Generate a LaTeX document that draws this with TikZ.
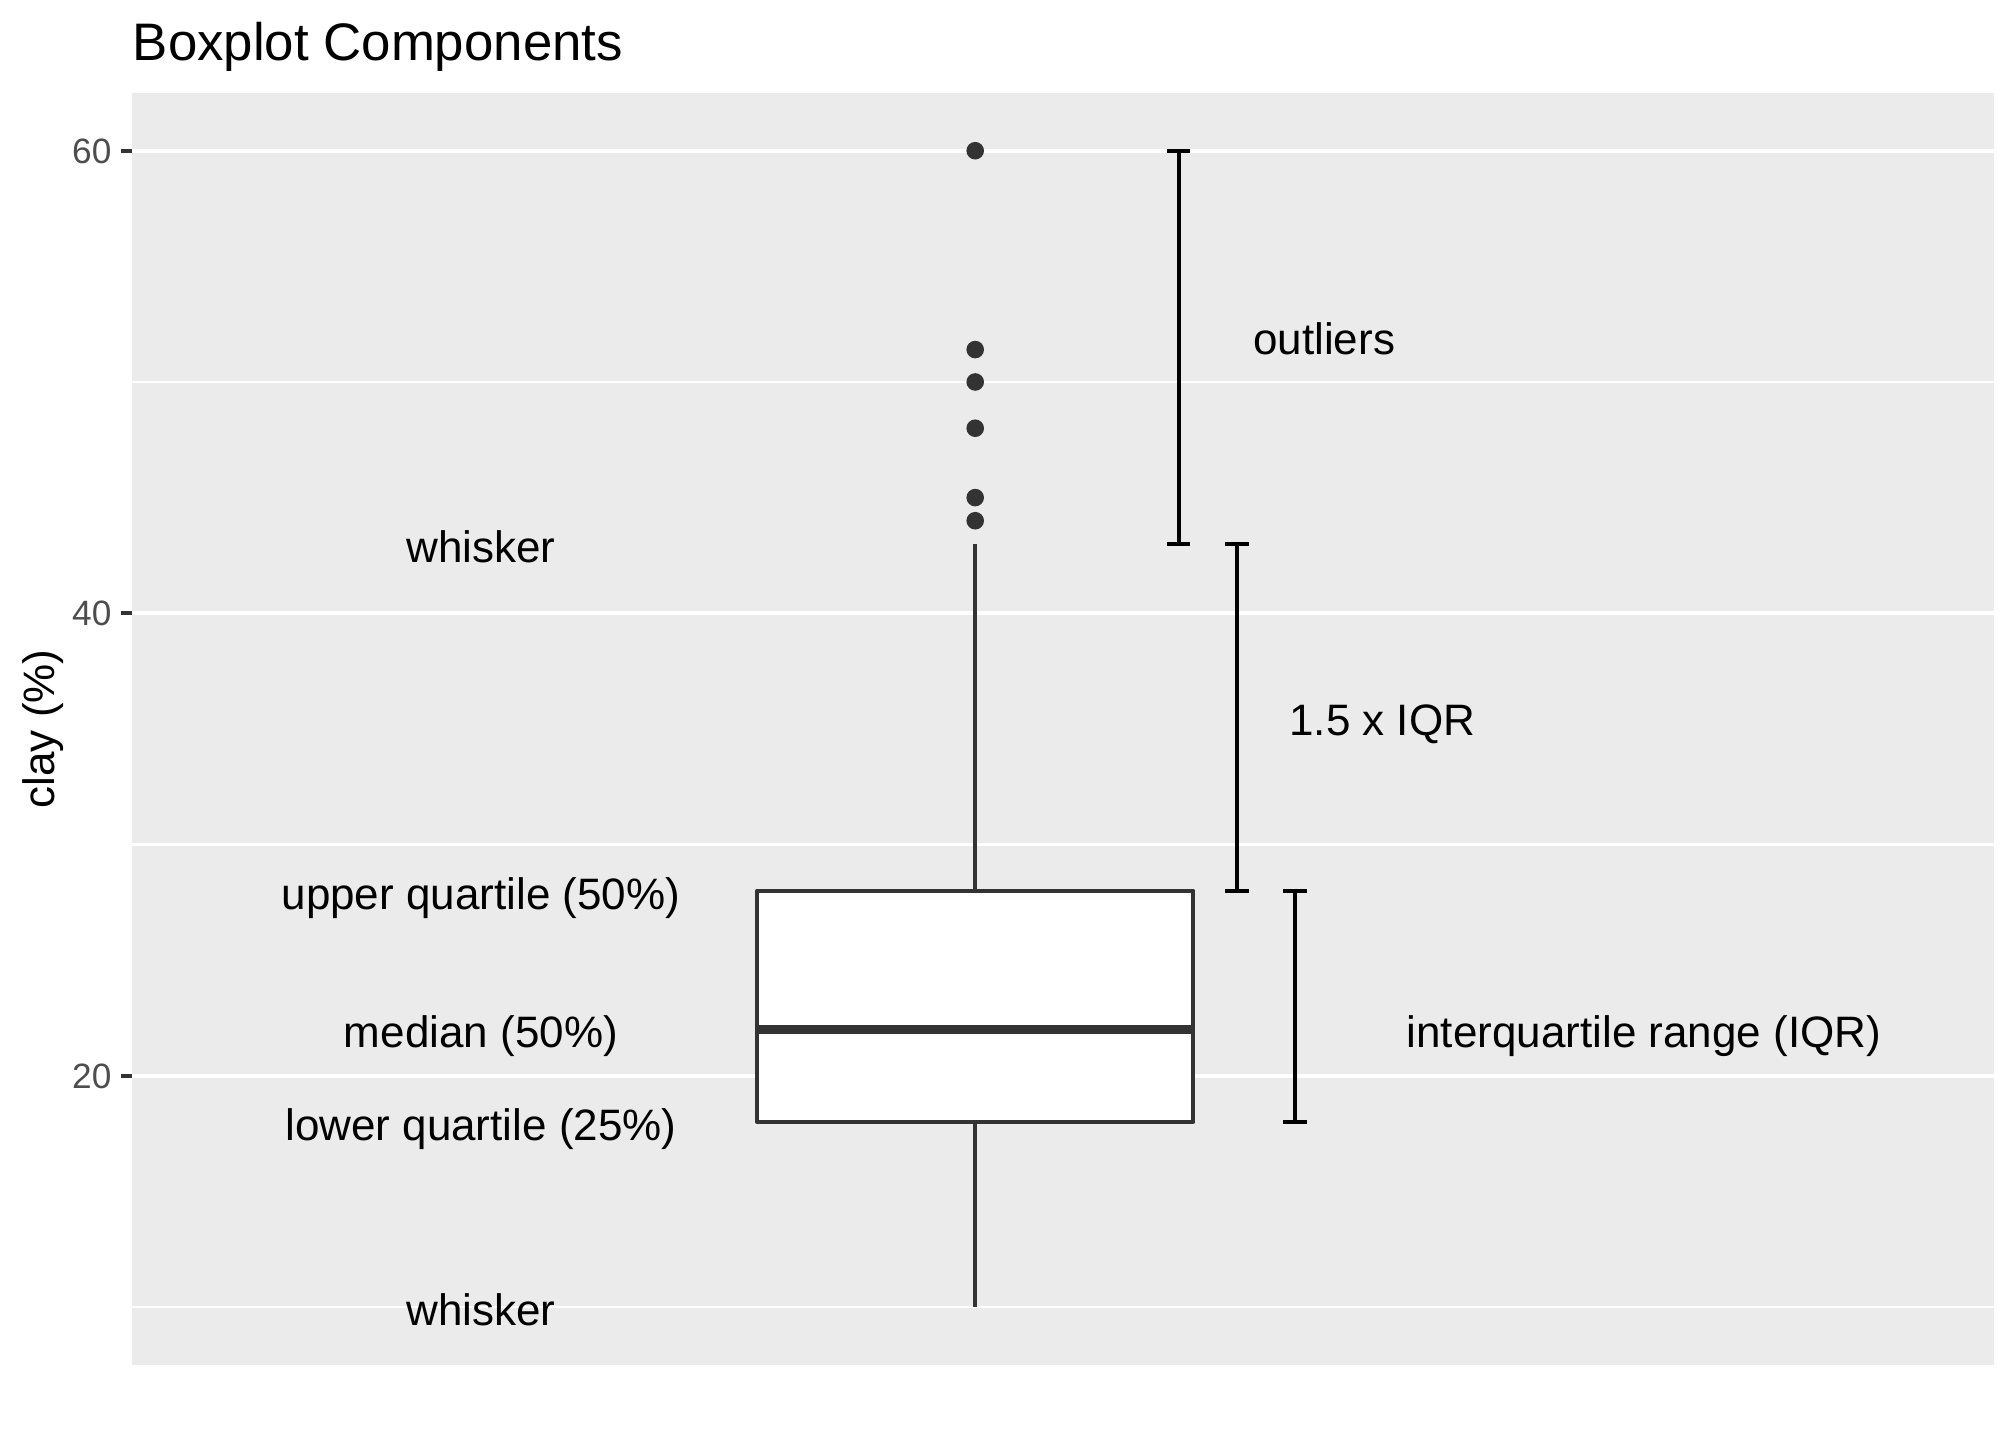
\documentclass[tikz,border=0pt]{standalone}
\usepackage{fontspec}
\setmainfont{Liberation Sans}
\usepackage{tikz}
\definecolor{bppanel}{RGB}{235,235,235}
\definecolor{bpdark}{RGB}{51,51,51}
\definecolor{bptick}{RGB}{77,77,77}
\tikzset{
  bplabel/.style={font=\fontsize{11}{13}\selectfont, text height=9.2pt, text depth=0pt, inner sep=0pt},
  bpticklabel/.style={font=\fontsize{8.8}{10}\selectfont, text=bptick, text height=6.3pt, text depth=0pt, inner sep=0pt, anchor=east},
  bpbar/.style={black, line width=1.07pt},
  bpline/.style={bpdark, line width=1.07pt}
}

\begin{document}
\begin{tikzpicture}[x=145.375pt,y=5.78125pt]
  \fill[white] (-0.677,4.2465) rectangle (2.7898,66.517);
  \useasboundingbox (-0.677,4.2465) rectangle (2.7898,66.517);
  % Panel and grid
  \fill[bppanel] (-0.45,7.5) rectangle (2.752,62.5);
  \foreach \y in {10,30,50}
    \draw[white, line width=0.53pt] (-0.45,\y) -- (2.752,\y);
  \foreach \y in {20,40,60} {
    \draw[white, line width=1.07pt] (-0.45,\y) -- (2.752,\y);
    \draw[bpline] (-0.45,\y) -- ++(-2.75pt,0);
    \node[bpticklabel, xshift=-4.95pt] (tick\y) at (-0.45,\y) {\y};
  }
  % Titles
  \node[anchor=base west, inner sep=0pt, font=\fontsize{13.2}{15}\selectfont] (title) at (-0.45,63.88) {Boxplot Components};
  \node[rotate=90, anchor=base, inner sep=0pt, font=\fontsize{11}{13}\selectfont] (ytitle) at (-0.5825,35) {clay (\%)};
  % Box and whiskers
  \draw[bpline] (1,28) -- (1,43);
  \draw[bpline] (1,18) -- (1,10);
  \filldraw[fill=white, draw=bpdark, line width=1.07pt, line join=round] (0.625,18) rectangle (1.375,28);
  \draw[bpdark, line width=2.13pt] (0.625,22) -- (1.375,22);
  % Outliers
  \foreach \v in {60,51.4,50,48,45,44}
    \fill[bpdark] (1,\v) circle (2.2pt);
  % Ranges
  \draw[bpbar] (1.33,43) -- (1.37,43) (1.35,43) -- (1.35,60) (1.33,60) -- (1.37,60);
  \draw[bpbar] (1.43,28) -- (1.47,28) (1.45,28) -- (1.45,43) (1.43,43) -- (1.47,43);
  \draw[bpbar] (1.53,18) -- (1.57,18) (1.55,18) -- (1.55,28) (1.53,28) -- (1.57,28);
  % Labels
  \node[bplabel] (whiskerhi) at (0.15,43) {whisker};
  \node[bplabel] (upperq) at (0.15,28) {upper quartile (50\%)};
  \node[bplabel] (median) at (0.15,22) {median (50\%)};
  \node[bplabel] (lowerq) at (0.15,18) {lower quartile (25\%)};
  \node[bplabel] (whiskerlo) at (0.15,10) {whisker};
  \node[bplabel] (outliers) at (1.6,52) {outliers};
  \node[bplabel] (range) at (1.7,35.5) {1.5 x IQR};
  \node[bplabel] (iqr) at (2.15,22) {interquartile range (IQR)};
\end{tikzpicture}
\end{document}
